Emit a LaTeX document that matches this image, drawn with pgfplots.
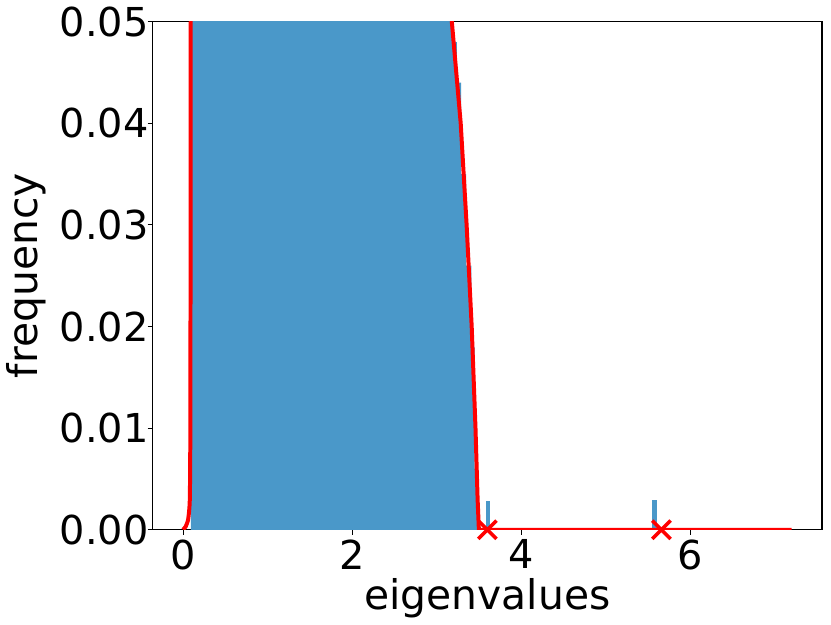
\documentclass[border=0pt]{standalone}
\usepackage{fontspec}
\setmainfont{DejaVu Sans}
\usepackage{pgfplots}
\pgfplotsset{compat=1.18}
\definecolor{histblue}{RGB}{74,152,201}

\begin{document}
\begin{tikzpicture}
\begin{axis}[
    scale only axis,
    width=336pt, height=255pt,
    xmin=-0.36, xmax=7.56,
    ymin=0, ymax=0.05,
    xtick={0,2,4,6},
    ytick={0,0.01,0.02,0.03,0.04,0.05},
    scaled y ticks=false,
    yticklabel style={xshift=4pt, /pgf/number format/.cd, fixed, fixed zerofill, precision=2},
    xticklabel style={yshift=1pt},
    /pgf/number format/assume math mode=true,
    tick align=outside,
    tick style={black, line width=0.5pt},
    major tick length=2.5pt,
    xtick pos=bottom, ytick pos=left,
    axis line style={line width=0.75pt},
    ticklabel style={font=\fontsize{20}{24}\selectfont},
    label style={font=\fontsize{20.5}{25}\selectfont},
    xlabel style={yshift=2.5pt},
    xlabel={eigenvalues},
    ylabel={frequency},
    clip mode=individual,
    after end axis/.code={\path (rel axis cs:1,0) ++(4.5pt,0) coordinate (rm);},
]
% histogram of the bulk (values above 0.05 are cut off by the axis)
\addplot[ybar interval, fill=histblue, draw=none] coordinates {
  (0.094,0.30) (0.20,0.42) (0.40,0.40) (0.60,0.36) (0.80,0.32) (1.00,0.29)
  (1.20,0.26) (1.40,0.23) (1.60,0.20) (1.80,0.18) (2.00,0.16) (2.20,0.14)
  (2.40,0.12) (2.60,0.10) (2.80,0.085) (3.00,0.065) (3.12,0.055)
  (3.18,0.048) (3.24,0.044) (3.29,0.035) (3.35,0.026) (3.41,0.018)
  (3.45,0.006) (3.49,0)
};
% isolated eigenvalues
\addplot[ybar interval, fill=histblue, draw=none] coordinates {
  (3.58,0.0028) (3.63,0)
};
\addplot[ybar interval, fill=histblue, draw=none] coordinates {
  (5.55,0.0029) (5.61,0)
};
% density curve
\addplot[red, line width=2pt, smooth, tension=0.3] coordinates {
  (0.00,0.0000) (0.03,0.0003) (0.06,0.0010) (0.08,0.0030) (0.087,0.012)
  (0.092,0.06)
};
\addplot[red, line width=2pt] coordinates {
  (0.092,0.06) (0.10,0.30)
};
\addplot[red, line width=2pt] coordinates {
  (3.05,0.10) (3.13,0.06) (3.18,0.050) (3.285,0.040) (3.355,0.030)
  (3.415,0.020) (3.46,0.010) (3.485,0.003) (3.50,0.0) (7.20,0.0)
};
% outlier eigenvalues
\addplot[only marks, mark=x, red, mark size=6.5pt, mark options={line width=1.8pt}]
  coordinates {(3.60,0) (5.66,0)};
\end{axis}
\end{tikzpicture}
\end{document}
